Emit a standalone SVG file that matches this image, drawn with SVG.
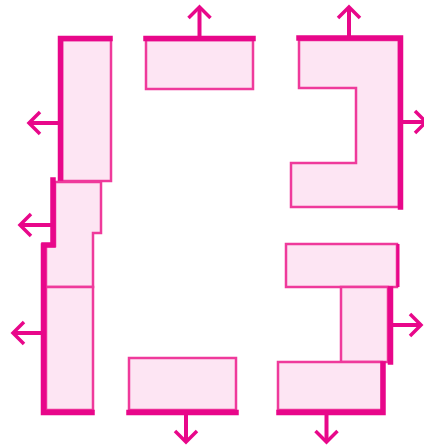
<svg xmlns="http://www.w3.org/2000/svg" width="424" height="446" viewBox="0 0 424 446">
<style>
.box{fill:#fde5f3;stroke:#ef3a9b;stroke-width:2.5;stroke-linejoin:miter}
.thick{fill:none;stroke:#e8078a;stroke-width:5.5;stroke-linejoin:miter;stroke-linecap:square}
.arrow{fill:none;stroke:#e8078a;stroke-width:4;marker-end:url(#ah)}
</style>
<defs>
<marker id="ah" viewBox="0 0 16 26" refX="13" refY="13" markerWidth="16" markerHeight="26" orient="auto" markerUnits="userSpaceOnUse">
<path d="M2,2 L13,13 L2,24" fill="none" stroke="#e8078a" stroke-width="3.5"/>
</marker>
</defs>
<rect width="424" height="446" fill="#ffffff"/>
<g id="n1">
<rect class="box" x="62" y="40" width="49" height="141"/>
<path class="thick" d="M60.5,183 V38.5 H110"/>
</g>
<g id="n2">
<polygon class="box" points="55,182 101,182 101,233 93,233 93,287 46,287 46,246 55,246"/>
<path class="thick" d="M53,180 V245 H44"/>
</g>
<g id="n3">
<rect class="box" x="46" y="287" width="47" height="123"/>
<path class="thick" d="M43.5,246 V412.5 H92"/>
</g>
<g id="n4">
<rect class="box" x="146" y="40" width="107" height="49"/>
<path class="thick" d="M146,38.5 H253"/>
</g>
<g id="n5">
<polygon class="box" points="299,40 399,40 399,207 291,207 291,163 356,163 356,88 299,88"/>
<path class="thick" d="M299,38 H400.5 V207"/>
</g>
<g id="n6">
<rect class="box" x="286" y="244" width="111" height="43"/>
<path d="M398,244 V287" fill="none" stroke="#e8078a" stroke-width="3"/>
</g>
<g id="n7">
<rect class="box" x="341" y="287" width="47" height="75"/>
<path class="thick" d="M390.5,289 V362"/>
</g>
<g id="n8">
<rect class="box" x="278" y="362" width="104" height="48"/>
<path class="thick" d="M383,364 V412.5 H279"/>
</g>
<g id="n9">
<rect class="box" x="129" y="358" width="107" height="52"/>
<path class="thick" d="M129,412.5 H236"/>
</g>
<g id="connectors">
<line class="arrow" x1="58" y1="123" x2="29" y2="123"/>
<line class="arrow" x1="51" y1="225" x2="20" y2="225"/>
<line class="arrow" x1="41" y1="333" x2="13" y2="333"/>
<line class="arrow" x1="199.5" y1="36" x2="199.5" y2="7"/>
<line class="arrow" x1="349" y1="36" x2="349" y2="7"/>
<line class="arrow" x1="403" y1="122" x2="426" y2="122"/>
<line class="arrow" x1="393" y1="325" x2="421" y2="325"/>
<line class="arrow" x1="326.5" y1="415" x2="326.5" y2="442"/>
<line class="arrow" x1="186" y1="415" x2="186" y2="442"/>
</g>
</svg>
